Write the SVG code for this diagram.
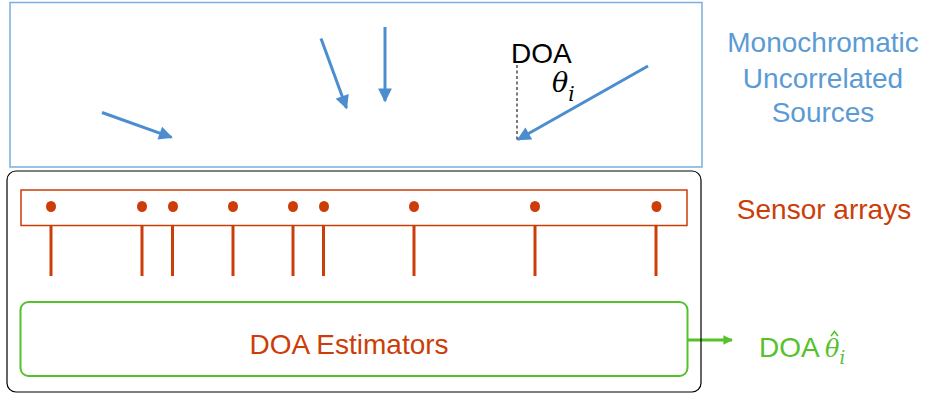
<svg xmlns="http://www.w3.org/2000/svg" width="925" height="394" viewBox="0 0 925 394">
<style>
.sans{font-family:"Liberation Sans",Arial,sans-serif;font-size:28px}
.math{font-family:"DejaVu Serif","Liberation Serif",serif;font-style:italic}
.blue{fill:#5B9BD5}
.orange{fill:#CC3D08}
.green{fill:#55C22B}
.src{stroke:#4A8ED0;stroke-width:3;fill:none;marker-end:url(#bh)}
.sensor{stroke:#CC3D08;stroke-width:3}
.dot{fill:#CC3D08}
</style>
<defs>
<marker id="bh" viewBox="0 0 10 10" refX="9" refY="5" markerWidth="5.2" markerHeight="4.6" orient="auto" markerUnits="strokeWidth">
<path d="M0,0 L10,5 L0,10 z" fill="#4A8ED0"/>
</marker>
<marker id="gh" viewBox="0 0 10 10" refX="9" refY="5" markerWidth="6" markerHeight="3.2" orient="auto" markerUnits="strokeWidth">
<path d="M0,0 L10,5 L0,10 z" fill="#55C22B"/>
</marker>
</defs>
<rect width="925" height="394" fill="#ffffff"/>

<g id="sources">
<rect x="10" y="2.5" width="692" height="164.5" fill="none" stroke="#7AAEDD" stroke-width="1.5"/>
</g>

<g id="connectors">
<line class="src" x1="102" y1="112.5" x2="171.5" y2="137.3"/>
<line class="src" x1="321" y1="38.5" x2="346.5" y2="108"/>
<line class="src" x1="385" y1="27" x2="385" y2="101"/>
<line class="src" x1="648" y1="66" x2="518" y2="139.5"/>
<line x1="517" y1="65" x2="517" y2="140" stroke="#222" stroke-width="1.2" stroke-dasharray="3,2.5"/>
<line x1="688" y1="340" x2="732" y2="340" stroke="#55C22B" stroke-width="3" marker-end="url(#gh)"/>
</g>

<g id="doa-label">
<text class="sans" x="511" y="63" fill="#000" font-size="27">DOA</text>
<text class="math" x="552" y="92" font-size="27" fill="#000">θ<tspan font-size="20" dy="9">i</tspan></text>
</g>

<g id="sources-label">
<text class="sans blue" text-anchor="middle" x="823" y="52">Monochromatic</text>
<text class="sans blue" text-anchor="middle" x="823" y="87.5">Uncorrelated</text>
<text class="sans blue" text-anchor="middle" x="823" y="122">Sources</text>
</g>

<g id="system">
<rect x="7" y="171" width="694" height="221" rx="9" ry="9" fill="none" stroke="#000" stroke-width="1.2"/>
</g>

<g id="sensor-array">
<rect x="21" y="190" width="666" height="35.5" fill="none" stroke="#CC3D08" stroke-width="1.5"/>
<ellipse class="dot" cx="51" cy="206.5" rx="5" ry="5.5"/>
<ellipse class="dot" cx="142" cy="206.5" rx="5" ry="5.5"/>
<ellipse class="dot" cx="173" cy="206.5" rx="5" ry="5.5"/>
<ellipse class="dot" cx="233" cy="206.5" rx="5" ry="5.5"/>
<ellipse class="dot" cx="293" cy="206.5" rx="5" ry="5.5"/>
<ellipse class="dot" cx="324" cy="206.5" rx="5" ry="5.5"/>
<ellipse class="dot" cx="414" cy="206.5" rx="5" ry="5.5"/>
<ellipse class="dot" cx="535" cy="206.5" rx="5" ry="5.5"/>
<ellipse class="dot" cx="656.5" cy="206.5" rx="5" ry="5.5"/>
<line class="sensor" x1="51" y1="226" x2="51" y2="276"/>
<line class="sensor" x1="142" y1="226" x2="142" y2="276"/>
<line class="sensor" x1="172.5" y1="226" x2="172.5" y2="276"/>
<line class="sensor" x1="233" y1="226" x2="233" y2="276"/>
<line class="sensor" x1="293" y1="226" x2="293" y2="276"/>
<line class="sensor" x1="323.5" y1="226" x2="323.5" y2="276"/>
<line class="sensor" x1="414" y1="226" x2="414" y2="276"/>
<line class="sensor" x1="535" y1="226" x2="535" y2="276"/>
<line class="sensor" x1="656" y1="226" x2="656" y2="276"/>
</g>

<g id="sensor-label">
<text class="sans orange" text-anchor="middle" x="824" y="219">Sensor arrays</text>
</g>

<g id="estimators">
<rect x="20.5" y="302" width="667" height="74" rx="8" ry="8" fill="none" stroke="#55C22B" stroke-width="2"/>
<text class="sans orange" text-anchor="middle" x="349" y="354">DOA Estimators</text>
</g>

<g id="output-label">
<text class="sans green" x="759" y="356.5">DOA</text>
<text class="math green" x="825" y="356.5" font-size="24">θ<tspan font-size="18" dy="7">i</tspan></text>
<polyline points="831,336 834.5,331.5 838,336" fill="none" stroke="#55C22B" stroke-width="1.6"/>
</g>
</svg>
